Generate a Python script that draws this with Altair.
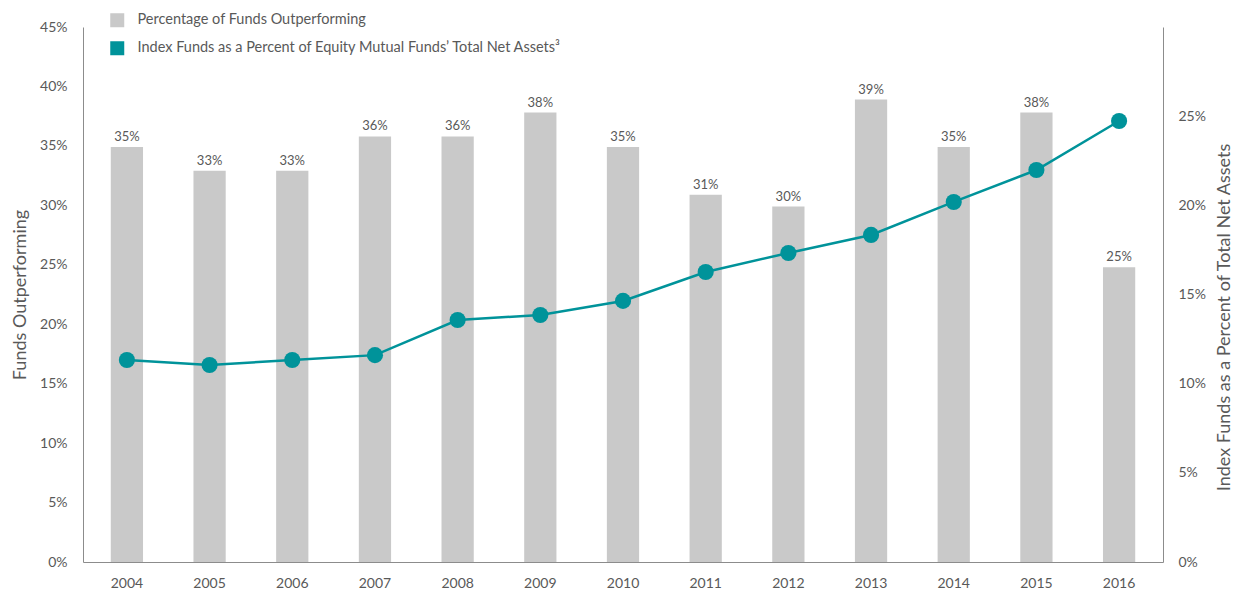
import altair as alt
import pandas as pd

years = ["2004", "2005", "2006", "2007", "2008", "2009", "2010",
         "2011", "2012", "2013", "2014", "2015", "2016"]
pct_outperforming = [0.349, 0.329, 0.329, 0.358, 0.358, 0.378, 0.349,
                     0.309, 0.299, 0.389, 0.349, 0.378, 0.248]
index_share = [0.1133, 0.1105, 0.1133, 0.116, 0.1357, 0.1385, 0.1464,
               0.1626, 0.1733, 0.1834, 0.2019, 0.2198, 0.2473]
series_names = ["Percentage of Funds Outperforming",
                "Index Funds as a Percent of Equity Mutual Funds\u2019 Total Net Assets\u00b3"]

GRAY = "#C9C9C9"
TEAL = "#00939A"
TXT = "#595959"
AX = "#8C8C8C"
FONT = "Lato"

df = pd.DataFrame({
    "year": years,
    "pct": pct_outperforming,
    "idx": index_share,
    "series": [series_names[0]] * len(years),
})

x = alt.X("year:N", title=None,
          scale=alt.Scale(paddingInner=0.61, paddingOuter=0.336),
          axis=alt.Axis(labelAngle=0, ticks=False, domainColor=AX, labelColor=TXT,
                        labelFontSize=14, labelPadding=14, labelFont=FONT))

left_y = alt.Y("pct:Q", title="Funds Outperforming",
               scale=alt.Scale(domain=[0, 0.45], nice=False),
               axis=alt.Axis(format=".0%", values=[i * 0.05 for i in range(10)],
                             grid=False, ticks=False, domainColor=AX, labelColor=TXT,
                             labelFontSize=14, labelPadding=16, labelFont=FONT,
                             titleColor=TXT, titleFontSize=18, titleFontWeight="normal",
                             titleFont=FONT, titlePadding=10))

bars = alt.Chart(df).mark_bar(color=GRAY).encode(
    x=x,
    y=left_y,
    color=alt.Color("series:N",
                    scale=alt.Scale(domain=series_names, range=[GRAY, TEAL]),
                    legend=alt.Legend(title=None, orient="none", legendX=27, legendY=-14,
                                      symbolType="square", symbolSize=196,
                                      symbolStrokeWidth=0, labelFontSize=14.5,
                                      labelColor=TXT, labelFont=FONT, rowPadding=12,
                                      labelOffset=13, padding=0, labelLimit=600)),
)

bar_labels = alt.Chart(df).mark_text(baseline="bottom", dy=-3, fontSize=13,
                                     color=TXT, font=FONT).encode(
    x=x,
    y=left_y,
    text=alt.Text("pct:Q", format=".0%"),
)

line_y = alt.Y("idx:Q", title="Index Funds as a Percent of Total Net Assets",
               scale=alt.Scale(domain=[0, 0.30], nice=False),
               axis=alt.Axis(orient="right", format=".0%",
                             values=[i * 0.05 for i in range(7)],
                             grid=False, ticks=False, domainColor=AX, labelColor=TXT,
                             labelFontSize=14, labelPadding=15, labelFont=FONT,
                             titleColor=TXT, titleFontSize=18, titleFontWeight="normal",
                             titleFont=FONT, titlePadding=10, titleAngle=270,
                             titleBaseline="top", titleY=290))

line = alt.Chart(df).mark_line(color=TEAL, strokeWidth=2.5).encode(x=x, y=line_y)
pts = alt.Chart(df).mark_point(color=TEAL, filled=True, opacity=1, size=260,
                               shape="circle").encode(x=x, y=line_y)

left = alt.layer(bars, bar_labels)
right = alt.layer(line, pts)

chart = alt.layer(left, right).resolve_scale(y="independent").properties(
    width=1080, height=535,
    background="white",
    autosize=alt.AutoSizeParams(type="none"),
    padding={"left": 75, "top": 19, "right": 70, "bottom": 30},
).configure_view(strokeWidth=0, stroke="transparent")

chart.save("out.html", embed_options={"renderer": "svg", "actions": False})
